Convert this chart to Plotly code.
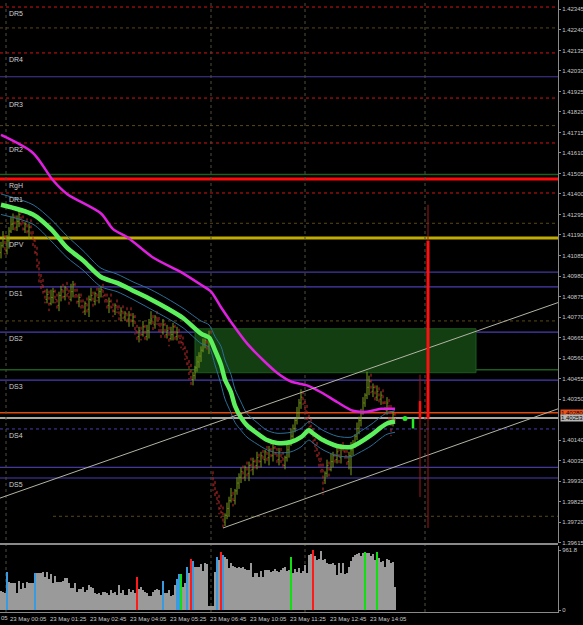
import plotly.graph_objects as go

# ---------------- data ----------------
bar_index = list(range(198))

opens = [
 1.4110, 1.41135, 1.4118, 1.4111, 1.4116, 1.4121, 1.41245, 1.4128, 1.4123, 1.4126,
 1.41295, 1.4126, 1.4122, 1.41245, 1.4121, 1.4123, 1.4119, 1.4116, 1.4110, 1.41035,
 1.4097, 1.40935, 1.4090, 1.4086, 1.40885, 1.4084, 1.4087, 1.4090, 1.4086, 1.4083,
 1.4088, 1.4091, 1.40875, 1.4092, 1.4089, 1.4086, 1.4090, 1.40935, 1.40885, 1.4085,
 1.4087, 1.4083, 1.4080, 1.4084, 1.4081, 1.4086, 1.4088, 1.4085, 1.4089, 1.4087,
 1.4090, 1.4091, 1.4088, 1.4086, 1.4083, 1.4085, 1.4082, 1.4080, 1.4083, 1.4081,
 1.4078, 1.4080, 1.4077, 1.4079, 1.4076, 1.4078, 1.4075, 1.4077, 1.4070, 1.4067,
 1.4070, 1.4068, 1.4072, 1.4067, 1.4070, 1.4074, 1.4076, 1.4073, 1.4077, 1.4075,
 1.4072, 1.4069, 1.4073, 1.4068, 1.4070, 1.4066, 1.4068, 1.4072, 1.4067, 1.4069,
 1.4066, 1.4064, 1.4061, 1.4057, 1.4053, 1.4049, 1.4045, 1.4047, 1.4051, 1.4054,
 1.4057, 1.4060, 1.4063, 1.4065, 1.4062, 1.4066, 1.3996, 1.3991, 1.3987, 1.3983,
 1.3979, 1.3977, 1.3972, 1.39755, 1.3979, 1.3983, 1.39855, 1.3983, 1.3988, 1.3992,
 1.3995, 1.3998, 1.3995, 1.4000, 1.3997, 1.4001, 1.3999, 1.4003, 1.4001, 1.4005,
 1.4003, 1.4006, 1.4004, 1.4008, 1.4005, 1.4009, 1.4006, 1.4010, 1.4007, 1.4004,
 1.4008, 1.4005, 1.4001, 1.4005, 1.4009, 1.4012, 1.4016, 1.4020, 1.4024, 1.4028,
 1.4033, 1.4036, 1.4033, 1.4029, 1.4025, 1.4021, 1.4018, 1.4014, 1.4010, 1.4006,
 1.4003, 1.3999, 1.39935, 1.3997, 1.4001, 1.3999, 1.4003, 1.4006, 1.4004, 1.4008,
 1.4005, 1.4010, 1.4008, 1.4006, 1.4003, 1.4006, 1.4009, 1.4012, 1.4016, 1.4020,
 1.4024, 1.4028, 1.4033, 1.4037, 1.4041, 1.4044, 1.4039, 1.4041, 1.4036, 1.4039,
 1.4035, 1.4037, 1.4033, 1.4029, 1.4033, 1.4028, 1.4024, 1.4027]

highs = [
 1.41155, 1.4121, 1.4119, 1.4119, 1.4123, 1.41285, 1.4130, 1.4129, 1.4129, 1.41315,
 1.41315, 1.4129, 1.41255, 1.41275, 1.4125, 1.4127, 1.4121, 1.4117, 1.4113, 1.41055,
 1.4099, 1.40965, 1.4091, 1.40915, 1.40905, 1.4091, 1.4092, 1.4091, 1.4089, 1.4090,
 1.4093, 1.4094, 1.4093, 1.4095, 1.4091, 1.4094, 1.40955, 1.40945, 1.40915, 1.4089,
 1.4089, 1.4086, 1.4085, 1.4087, 1.4088, 1.4092, 1.4090, 1.4090, 1.4092, 1.4092,
 1.4093, 1.4094, 1.4089, 1.4089, 1.4087, 1.4089, 1.4084, 1.4084, 1.4086, 1.4083,
 1.4082, 1.4083, 1.4080, 1.4082, 1.4080, 1.4082, 1.4079, 1.4078, 1.4073, 1.4072,
 1.4072, 1.4075, 1.4073, 1.4073, 1.4076, 1.4080, 1.4078, 1.4078, 1.4080, 1.4077,
 1.4074, 1.4076, 1.4074, 1.4073, 1.4072, 1.4072, 1.4074, 1.4073, 1.4072, 1.4071,
 1.4068, 1.4067, 1.4062, 1.4060, 1.4055, 1.4053, 1.4049, 1.4052, 1.4057, 1.4059,
 1.4062, 1.4066, 1.4066, 1.4068, 1.4070, 1.4070, 1.3998, 1.3993, 1.3988, 1.3986,
 1.3981, 1.3980, 1.39765, 1.3982, 1.3985, 1.39895, 1.39875, 1.3989, 1.3995, 1.3997,
 1.4000, 1.4001, 1.4001, 1.4003, 1.4003, 1.4005, 1.4005, 1.4004, 1.4008, 1.4007,
 1.4008, 1.4009, 1.4009, 1.4011, 1.4011, 1.4013, 1.4012, 1.4011, 1.4010, 1.4010,
 1.4010, 1.4008, 1.4006, 1.4012, 1.4014, 1.4020, 1.4022, 1.4025, 1.4031, 1.4035,
 1.4040, 1.4039, 1.4034, 1.4032, 1.4027, 1.4025, 1.4020, 1.4015, 1.4013, 1.4008,
 1.4005, 1.4002, 1.3998, 1.4004, 1.4003, 1.4007, 1.4008, 1.4007, 1.4011, 1.4010,
 1.4012, 1.4013, 1.4009, 1.4009, 1.4008, 1.4013, 1.4014, 1.4017, 1.4023, 1.4026,
 1.4030, 1.4036, 1.4038, 1.4049, 1.4047, 1.4048, 1.4043, 1.4042, 1.4042, 1.4041,
 1.4039, 1.4040, 1.4034, 1.4036, 1.4035, 1.4032, 1.4029, 1.4028]

lows = [
 1.4107, 1.41125, 1.4109, 1.4109, 1.4112, 1.4120, 1.41215, 1.4121, 1.4121, 1.4123,
 1.4123, 1.4121, 1.4120, 1.4119, 1.4117, 1.4118, 1.4113, 1.4108, 1.41015, 1.4094,
 1.40905, 1.4089, 1.4084, 1.4084, 1.4080, 1.4083, 1.4084, 1.4084, 1.4081, 1.4080,
 1.4085, 1.40865, 1.40855, 1.4087, 1.4082, 1.4085, 1.4087, 1.40865, 1.4083, 1.4082,
 1.4080, 1.4079, 1.4078, 1.4079, 1.4077, 1.4085, 1.4082, 1.4083, 1.4085, 1.4084,
 1.4087, 1.4087, 1.4084, 1.4081, 1.4079, 1.4081, 1.4077, 1.4078, 1.4079, 1.4075,
 1.4075, 1.4076, 1.4075, 1.4074, 1.4072, 1.4074, 1.4072, 1.4068, 1.4065, 1.4064,
 1.4065, 1.4067, 1.4065, 1.4065, 1.4066, 1.4073, 1.4070, 1.4071, 1.4073, 1.4069,
 1.4066, 1.4068, 1.4066, 1.4066, 1.4062, 1.4065, 1.4065, 1.4065, 1.4065, 1.4063,
 1.4061, 1.4060, 1.4055, 1.4051, 1.4045, 1.4041, 1.4042, 1.4045, 1.4049, 1.4051,
 1.4054, 1.4059, 1.4061, 1.4060, 1.4058, 1.4063, 1.3988, 1.3985, 1.3981, 1.3976,
 1.3974, 1.3969, 1.3970, 1.39735, 1.3975, 1.3982, 1.3980, 1.3981, 1.3986, 1.3989,
 1.3992, 1.3994, 1.3993, 1.3995, 1.3993, 1.3998, 1.3996, 1.3999, 1.3999, 1.4000,
 1.4000, 1.4003, 1.4002, 1.4003, 1.4001, 1.4005, 1.4003, 1.4005, 1.4002, 1.4001,
 1.4002, 1.4000, 1.3999, 1.4003, 1.4005, 1.4011, 1.4013, 1.4018, 1.4022, 1.4025,
 1.4030, 1.4032, 1.4027, 1.4023, 1.4017, 1.4017, 1.4011, 1.4008, 1.4004, 1.4000,
 1.3996, 1.3986, 1.39915, 1.3995, 1.3995, 1.3998, 1.4000, 1.4002, 1.4002, 1.4002,
 1.4002, 1.4007, 1.4004, 1.4001, 1.3999, 1.3996, 1.4006, 1.4010, 1.4014, 1.4017,
 1.4021, 1.4027, 1.4031, 1.4035, 1.4037, 1.4038, 1.4036, 1.4034, 1.4034, 1.4032,
 1.4032, 1.4032, 1.4027, 1.4027, 1.4024, 1.4016, 1.4021, 1.4023]

closes = [
 1.41135, 1.4118, 1.4111, 1.4116, 1.4121, 1.41245, 1.4128, 1.4123, 1.4126, 1.41295,
 1.4126, 1.4122, 1.41245, 1.4121, 1.4123, 1.4119, 1.4116, 1.4110, 1.41035, 1.4097,
 1.40935, 1.4090, 1.4086, 1.40885, 1.4084, 1.4087, 1.4090, 1.4086, 1.4083, 1.4088,
 1.4091, 1.40875, 1.4092, 1.4089, 1.4086, 1.4090, 1.40935, 1.40885, 1.4085, 1.4087,
 1.4083, 1.4080, 1.4084, 1.4081, 1.4086, 1.4088, 1.4085, 1.4089, 1.4087, 1.4090,
 1.4091, 1.4088, 1.4086, 1.4083, 1.4085, 1.4082, 1.4080, 1.4083, 1.4081, 1.4078,
 1.4080, 1.4077, 1.4079, 1.4076, 1.4078, 1.4075, 1.4077, 1.4070, 1.4067, 1.4070,
 1.4068, 1.4072, 1.4067, 1.4070, 1.4074, 1.4076, 1.4073, 1.4077, 1.4075, 1.4072,
 1.4069, 1.4073, 1.4068, 1.4070, 1.4066, 1.4068, 1.4072, 1.4067, 1.4069, 1.4066,
 1.4064, 1.4061, 1.4057, 1.4053, 1.4049, 1.4045, 1.4047, 1.4051, 1.4054, 1.4057,
 1.4060, 1.4063, 1.4065, 1.4062, 1.4066, 1.4064, 1.3991, 1.3987, 1.3983, 1.3979,
 1.3977, 1.3972, 1.39755, 1.3979, 1.3983, 1.39855, 1.3983, 1.3988, 1.3992, 1.3995,
 1.3998, 1.3995, 1.4000, 1.3997, 1.4001, 1.3999, 1.4003, 1.4001, 1.4005, 1.4003,
 1.4006, 1.4004, 1.4008, 1.4005, 1.4009, 1.4006, 1.4010, 1.4007, 1.4004, 1.4008,
 1.4005, 1.4001, 1.4005, 1.4009, 1.4012, 1.4016, 1.4020, 1.4024, 1.4028, 1.4033,
 1.4036, 1.4033, 1.4029, 1.4025, 1.4021, 1.4018, 1.4014, 1.4010, 1.4006, 1.4003,
 1.3999, 1.39935, 1.3997, 1.4001, 1.3999, 1.4003, 1.4006, 1.4004, 1.4008, 1.4005,
 1.4010, 1.4008, 1.4006, 1.4003, 1.4006, 1.4009, 1.4012, 1.4016, 1.4020, 1.4024,
 1.4028, 1.4033, 1.4037, 1.4041, 1.4044, 1.4039, 1.4041, 1.4036, 1.4039, 1.4035,
 1.4037, 1.4033, 1.4029, 1.4033, 1.4028, 1.4024, 1.4027, 1.4025]

volumes = [
 305, 294, 267, 614, 443, 427, 427, 427, 278, 470,
 331, 427, 358, 454, 427, 438, 427, 598, 598, 598,
 588, 604, 524, 614, 492, 572, 427, 545, 454, 454,
 454, 465, 508, 508, 427, 347, 347, 427, 294, 331,
 331, 374, 294, 320, 401, 374, 347, 278, 251, 267,
 240, 294, 294, 267, 240, 320, 278, 294, 240, 401,
 267, 320, 240, 240, 331, 294, 320, 267, 534, 331,
 374, 320, 294, 267, 224, 224, 294, 320, 331, 320,
 240, 470, 267, 278, 320, 224, 240, 401, 497, 572,
 582, 374, 438, 684, 598, 823, 791, 695, 695, 695,
 732, 625, 748, 732, 64, 64, 64, 614, 855, 801,
 930, 887, 855, 812, 668, 748, 705, 695, 668, 695,
 668, 684, 652, 641, 641, 759, 524, 598, 588, 534,
 630, 524, 641, 641, 641, 614, 630, 652, 630, 614,
 641, 668, 684, 630, 641, 855, 588, 652, 614, 668,
 598, 630, 721, 598, 882, 898, 960, 866, 801, 812,
 950, 801, 812, 748, 737, 737, 748, 721, 561, 748,
 588, 748, 572, 588, 695, 791, 844, 882, 898, 908,
 866, 919, 930, 919, 908, 866, 898, 801, 930, 828,
 775, 791, 695, 812, 801, 759, 764, 374]
vol_blue_bars = [3, 17, 81, 88, 89, 93, 96, 108, 111]
vol_red_bars = [68, 95, 110, 156]
vol_green_bars = [90, 145, 182, 188]

# moving average (thick green) and its envelope, magenta slow average
ma_bars = [0, 16, 25, 33, 41, 50, 58, 66, 75, 83, 91, 100, 104, 107, 110, 112, 115, 117,
           120, 123, 128, 133, 138, 145, 150, 154, 156, 161, 168, 175, 179, 185, 190, 193, 197]
ma_mid = [1.41345, 1.41295, 1.4122, 1.41125, 1.4106, 1.40975, 1.40945, 1.40905, 1.4086,
          1.40815, 1.40765, 1.40685, 1.40665, 1.4060, 1.40525, 1.4045, 1.40385, 1.40315,
          1.40255, 1.40215, 1.40175, 1.4014, 1.40125, 1.4013, 1.40155, 1.4019, 1.40175,
          1.4014, 1.4011, 1.40105, 1.40125, 1.40165, 1.40205, 1.40225, 1.40235]
ma_upper = [1.4140, 1.41345, 1.4127, 1.41185, 1.4111, 1.4102, 1.4099, 1.4095, 1.4091,
            1.40865, 1.40815, 1.4075, 1.4073, 1.4067, 1.4062, 1.4055, 1.40475, 1.4040,
            1.40335, 1.40275, 1.4023, 1.4019, 1.40175, 1.4018, 1.4020, 1.40235, 1.40225,
            1.4019, 1.4016, 1.40155, 1.4018, 1.4022, 1.4026, 1.4028, 1.4029]
ma_lower = [1.41295, 1.41245, 1.4116, 1.41075, 1.4101, 1.40925, 1.4090, 1.4086, 1.4081,
            1.40765, 1.40715, 1.40635, 1.40615, 1.40525, 1.40425, 1.4035, 1.4028, 1.4023,
            1.4019, 1.40155, 1.4012, 1.4009, 1.40075, 1.4008, 1.40105, 1.4014, 1.40125,
            1.4009, 1.4006, 1.40055, 1.40075, 1.4011, 1.4015, 1.4017, 1.4018]
slow_bars = [0, 16, 26, 33, 50, 56, 63, 76, 90, 100, 105, 110, 115, 123, 131, 138, 145,
             153, 160, 168, 176, 183, 190, 197]
slow_ma = [1.41702, 1.4161, 1.4147, 1.4140, 1.4130, 1.4122, 1.4118, 1.41075, 1.4100,
           1.40935, 1.4090, 1.4082, 1.40745, 1.40635, 1.4055, 1.40485, 1.4044, 1.4042,
           1.40385, 1.40335, 1.4029, 1.40285, 1.4030, 1.4030]

# higher-timeframe bars shown to the right of the last bar
htf_bars = [206, 209.5, 213.5]
htf_open = [1.4020, 1.4034, 1.4116]
htf_high = [1.4025, 1.40475, 1.41345]
htf_low = [1.4020, 1.39848, 1.3969]
htf_close = [1.4025, 1.4025, 1.4025]
signal_bar, signal_price = 202, 1.4025

# trendlines (bar, price)
trend_up = ([-0.5, 278.5], [1.39843, 1.40844])
trend_low = ([111, 278.5], [1.3969, 1.4030])

# zone box
zone_bars = (97, 237.5)
zone_prices = (1.40485, 1.4071)

# pivot levels
level_names = ["DR5", "DR4", "DR3", "DR2", "RgH", "DR1", "DPV", "DS1", "DS2", "DS3", "DS4", "DS5"]
level_prices = [1.42357, 1.42122, 1.41891, 1.41661, 1.41477, 1.41405, 1.41174,
                1.40924, 1.40693, 1.40447, 1.40197, 1.39946]
round_levels = [1.4200, 1.4100, 1.4000]
half_levels = [1.4150, 1.4050]
quarter_levels = [1.4225, 1.4175, 1.4125, 1.4075]
quarter_low_level = 1.3975
ask_price, bid_price = 1.40280, 1.40253

price_ticks = [1.42345, 1.42240, 1.42135, 1.42030, 1.41925, 1.41820, 1.41715, 1.41610,
               1.41505, 1.41400, 1.41295, 1.41190, 1.41085, 1.40980, 1.40875, 1.40770,
               1.40665, 1.40560, 1.40455, 1.40350, 1.40140, 1.40035, 1.39930, 1.39825,
               1.39720, 1.39615]
vol_max_label = 961.8

time_labels = ["23 May 00:05", "23 May 01:25", "23 May 02:45", "23 May 04:05", "23 May 05:25",
               "23 May 06:45", "23 May 10:05", "23 May 11:25", "23 May 12:45", "23 May 14:05"]
time_label_bars = [3.5, 23.5, 43.5, 63.5, 83.5, 103.5, 123.5, 143.5, 163.5, 183.5]
separator_bars = [2.5, 105, 152, 212]

# ---------------- figure ----------------
FONT = "Liberation Sans"
fig = go.Figure()

fig.add_trace(go.Ohlc(
    x=bar_index, open=opens, high=highs, low=lows, close=closes,
    increasing=dict(line=dict(color="#7c9c1c", width=1)),
    decreasing=dict(line=dict(color="#c42a2a", width=1, dash="dot")),
    tickwidth=0.3, xaxis="x", yaxis="y", hoverinfo="skip"))

for band in (ma_upper, ma_lower):
    fig.add_trace(go.Scatter(x=ma_bars, y=band, mode="lines",
                             line=dict(color="#2a6f98", width=1, shape="spline", smoothing=0.8),
                             hoverinfo="skip"))
fig.add_trace(go.Scatter(x=slow_bars, y=slow_ma, mode="lines",
                         line=dict(color="#e020e0", width=2.5, shape="spline", smoothing=0.8),
                         hoverinfo="skip"))
fig.add_trace(go.Scatter(x=ma_bars, y=ma_mid, mode="lines",
                         line=dict(color="#5cf05c", width=4.5, shape="spline", smoothing=0.8),
                         hoverinfo="skip"))
for tx, ty in (trend_up, trend_low):
    fig.add_trace(go.Scatter(x=tx, y=ty, mode="lines",
                             line=dict(color="#b4b4a4", width=1), hoverinfo="skip"))

# higher timeframe bars
for i, b in enumerate(htf_bars):
    up = htf_close[i] >= htf_open[i]
    col = "#22ee22" if up else "#ff1010"
    wick = "#22ee22" if up else "#a01818"
    fig.add_trace(go.Scatter(x=[b, b], y=[htf_low[i], htf_high[i]], mode="lines",
                             line=dict(color=wick, width=1), hoverinfo="skip"))
    fig.add_trace(go.Scatter(x=[b, b], y=[htf_open[i], htf_close[i]], mode="lines",
                             line=dict(color=col, width=3 if i == 2 else 2.5), hoverinfo="skip"))
fig.add_trace(go.Scatter(x=[signal_bar], y=[signal_price], mode="markers",
                         marker=dict(color="#22ee22", size=5), hoverinfo="skip"))

# volume
vcolors = []
for i in bar_index:
    if i in vol_blue_bars:
        vcolors.append("#3a9ae0")
    elif i in vol_red_bars:
        vcolors.append("#ff1a1a")
    elif i in vol_green_bars:
        vcolors.append("#10e010")
    else:
        vcolors.append("#9a9a9a")
fig.add_trace(go.Bar(x=bar_index, y=volumes, marker=dict(color=vcolors, line=dict(width=0)),
                     width=0.5, xaxis="x", yaxis="y2", hoverinfo="skip"))

shapes = []
def hline(price, color, width=1, dash="solid", x0=0):
    shapes.append(dict(type="line", xref="x domain", x0=x0, x1=1, yref="y", y0=price, y1=price,
                       line=dict(color=color, width=width, dash=dash), layer="below"))

shapes.append(dict(type="rect", xref="x", yref="y", x0=zone_bars[0], x1=zone_bars[1],
                   y0=zone_prices[0], y1=zone_prices[1], fillcolor="#123e12",
                   line=dict(color="#1c5a1c", width=1), layer="below"))
for p in quarter_levels:
    hline(p, "#5a4818", 1, "dot")
hline(quarter_low_level, "#5a4818", 1, "dot", x0=0.095)
for p in round_levels:
    hline(p, "#43389e", 1.2)
for p in half_levels:
    hline(p, "#1d5e1d", 1.5)
for n, p in zip(level_names, level_prices):
    if n.startswith("DR"):
        hline(p, "#d41414", 1, "dot")
    elif n == "RgH":
        hline(p, "#ff0a0a", 3)
    elif n == "DPV":
        hline(p, "#c0ac00", 3)
    elif n == "DS4":
        hline(p, "#4a3cb0", 1, "dot")
    else:
        hline(p, "#4a3cb0", 1.2)
hline(ask_price, "#e0480c", 1.5)
hline(bid_price, "#a8a8a0", 2)

for b in separator_bars:
    shapes.append(dict(type="line", xref="x", x0=b, x1=b, yref="paper", y0=0, y1=1,
                       line=dict(color="#4e4e3a", width=1, dash="dot"), layer="below"))
# pane separator
shapes.append(dict(type="line", xref="paper", x0=0, x1=1, yref="paper", y0=0.1111, y1=0.1111,
                   line=dict(color="#8a8a8a", width=2)))

annotations = []
for n, p in zip(level_names, level_prices):
    annotations.append(dict(xref="paper", x=0.0125, yref="y", y=p, text=n, showarrow=False,
                            xanchor="left", yanchor="top", yshift=-1,
                            font=dict(family=FONT, size=7, color="#cfcfcf")))
for b, t in zip(time_label_bars, time_labels):
    annotations.append(dict(xref="x", x=b, yref="paper", y=-0.003, text=t, showarrow=False,
                            xanchor="left", yanchor="top",
                            font=dict(family=FONT, size=6, color="#c8c8c8")))
annotations.append(dict(xref="paper", x=0.0, yref="paper", y=-0.003, text="05",
                        showarrow=False, xanchor="left", yanchor="top", borderpad=0,
                        font=dict(family=FONT, size=6, color="#c8c8c8")))
annotations.append(dict(xref="paper", x=1.003, yref="y", y=ask_price, text=f"{ask_price:.5f}",
                        showarrow=False, xanchor="left", yanchor="middle", bgcolor="#e8501c",
                        borderpad=0, font=dict(family=FONT, size=6, color="#000000")))
annotations.append(dict(xref="paper", x=1.003, yref="y", y=bid_price, text=f"{bid_price:.5f}",
                        showarrow=False, xanchor="left", yanchor="middle", bgcolor="#b8b8b8",
                        borderpad=0, font=dict(family=FONT, size=6, color="#000000")))

fig.update_layout(
    width=583, height=625, margin=dict(l=0, r=25, t=0, b=13),
    paper_bgcolor="#000000", plot_bgcolor="#000000", showlegend=False,
    shapes=shapes, annotations=annotations,
    xaxis=dict(domain=[0, 1], range=[-0.5, 278.5], anchor="y2", showgrid=False, zeroline=False,
               showticklabels=False, showline=True, linecolor="#8a8a8a", linewidth=1,
               rangeslider=dict(visible=False)),
    yaxis=dict(domain=[0.1127, 1], range=[1.39613, 1.42393], side="right", anchor="x",
               tickvals=price_ticks, ticktext=[f"{v:.5f}" for v in price_ticks],
               tickfont=dict(family=FONT, size=6, color="#c8c8c8"), ticks="outside", ticklen=2,
               tickcolor="#8a8a8a", showgrid=False, zeroline=False, showline=True,
               linecolor="#8a8a8a", automargin=False),
    yaxis2=dict(domain=[0, 0.1078], range=[-32, 1026], side="right", anchor="x",
                tickvals=[vol_max_label, 0], ticktext=[f"{vol_max_label}", "0"],
                tickfont=dict(family=FONT, size=6, color="#c8c8c8"), ticks="outside", ticklen=2,
                tickcolor="#8a8a8a", showgrid=False, zeroline=False, showline=True,
                linecolor="#8a8a8a", automargin=False),
    bargap=0,
)

fig.write_html("out.html")
